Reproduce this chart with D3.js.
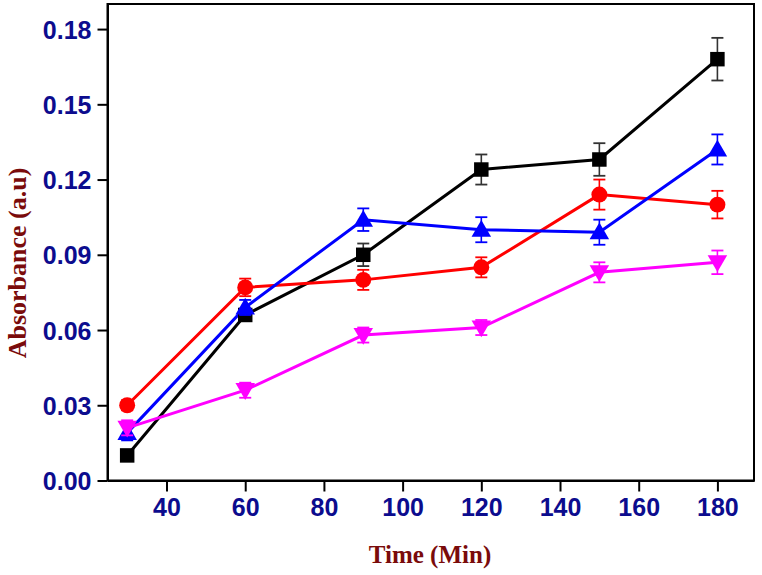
<!DOCTYPE html>
<html><head><meta charset="utf-8">
<script src="https://cdn.jsdelivr.net/npm/d3@7"></script>
<style>body{margin:0;background:#fff}svg{display:block}</style>
</head><body>
<svg id="chart" width="762" height="575"></svg>
<script>
const times = [30, 60, 90, 120, 150, 180];
const blackVals = [0.010, 0.066, 0.090, 0.124, 0.128, 0.168];
const blackErr  = [0.002, 0.002, 0.0045, 0.006, 0.0065, 0.0085];
const redVals   = [0.030, 0.077, 0.080, 0.085, 0.114, 0.110];
const redErr    = [0.002, 0.0035, 0.004, 0.004, 0.006, 0.0055];
const blueVals  = [0.019, 0.069, 0.104, 0.100, 0.099, 0.132];
const blueErr   = [0.003, 0.003, 0.0045, 0.005, 0.005, 0.006];
const magVals   = [0.021, 0.036, 0.058, 0.061, 0.083, 0.087];
const magErr    = [0.003, 0.003, 0.003, 0.003, 0.004, 0.0047];
const xTicks = [40, 60, 80, 100, 120, 140, 160, 180];
const yTicks = [0, 0.03, 0.06, 0.09, 0.12, 0.15, 0.18];

const series = [
  {vals: blackVals, err: blackErr, color: "#000000", errColor: "#333333", shape: "square"},
  {vals: redVals, err: redErr, color: "#ff0000", errColor: "#ff0000", shape: "circle"},
  {vals: blueVals, err: blueErr, color: "#0000ff", errColor: "#0000ff", shape: "up"},
  {vals: magVals, err: magErr, color: "#ff00ff", errColor: "#ff00ff", shape: "down"}
];

const svg = d3.select("#chart");
const L = 107.5, R = 754, T = 4, B = 480.5;
const x = d3.scaleLinear().domain([25, 189.3]).range([L, R]);
const y = d3.scaleLinear().domain([0, 0.19]).range([B, T]);

svg.append("rect").attr("x", L).attr("y", T).attr("width", R - L).attr("height", B - T)
  .attr("fill", "none").attr("stroke", "#000").attr("stroke-width", 2);

const tickColor = "#0c0c8e";
const xAxis = svg.append("g").attr("transform", `translate(0,${B})`)
  .call(d3.axisBottom(x).tickValues(xTicks).tickSize(11).tickSizeOuter(0).tickPadding(7).tickFormat(d3.format("d")));
const yAxis = svg.append("g").attr("transform", `translate(${L},0)`)
  .call(d3.axisLeft(y).tickValues(yTicks).tickSize(10).tickSizeOuter(0).tickPadding(6).tickFormat(d3.format(".2f")));
[xAxis, yAxis].forEach(g => {
  g.select(".domain").attr("stroke", "#000").attr("stroke-width", 2);
  g.selectAll(".tick line").attr("stroke", "#000").attr("stroke-width", 2);
  g.selectAll(".tick text").attr("fill", tickColor)
    .style("font-family", "'Liberation Sans', Arial, sans-serif")
    .style("font-weight", "bold").style("font-size", "25px");
});
yAxis.selectAll(".tick text").attr("dy", "0.36em");

const line = d3.line().x((d, i) => x(times[i])).y(d => y(d));
const sym = {
  square: d3.symbol().type(d3.symbolSquare).size(210),
  circle: d3.symbol().type(d3.symbolCircle).size(200),
  up: d3.symbol().type(d3.symbolTriangle).size(165),
  down: d3.symbol().type(d3.symbolTriangle).size(165)
};

series.forEach(s => {
  svg.append("path").datum(s.vals).attr("d", line)
    .attr("fill", "none").attr("stroke", s.color).attr("stroke-width", 3);
});
series.forEach(s => {
  const g = svg.append("g");
  s.vals.forEach((v, i) => {
    const cx = x(times[i]);
    const y1 = y(v + s.err[i]), y2 = y(v - s.err[i]);
    g.append("line").attr("x1", cx).attr("x2", cx).attr("y1", y1).attr("y2", y2)
      .attr("stroke", s.errColor).attr("stroke-width", 1.6);
    [y1, y2].forEach(yy => g.append("line").attr("x1", cx - 6).attr("x2", cx + 6)
      .attr("y1", yy).attr("y2", yy).attr("stroke", s.errColor).attr("stroke-width", 1.8));
    const rot = s.shape === "down" ? 180 : 0;
    const dy = s.shape === "up" ? 1.5 : (s.shape === "down" ? -1.5 : 0);
    g.append("path").attr("d", sym[s.shape]())
      .attr("transform", `translate(${cx},${y(v) + dy}) rotate(${rot})`)
      .attr("fill", s.color);
  });
});

const titleColor = "#7a0b0b";
svg.append("text").attr("x", 430).attr("y", 563).attr("text-anchor", "middle")
  .attr("fill", titleColor).style("font-family", "'Liberation Serif', 'Times New Roman', serif")
  .style("font-weight", "bold").style("font-size", "25px").text("Time (Min)");
svg.append("text").attr("transform", "translate(26,263) rotate(-90)").attr("text-anchor", "middle")
  .attr("fill", titleColor).style("font-family", "'Liberation Serif', 'Times New Roman', serif")
  .style("font-weight", "bold").style("font-size", "26px").text("Absorbance (a.u)");
</script>
</body></html>
